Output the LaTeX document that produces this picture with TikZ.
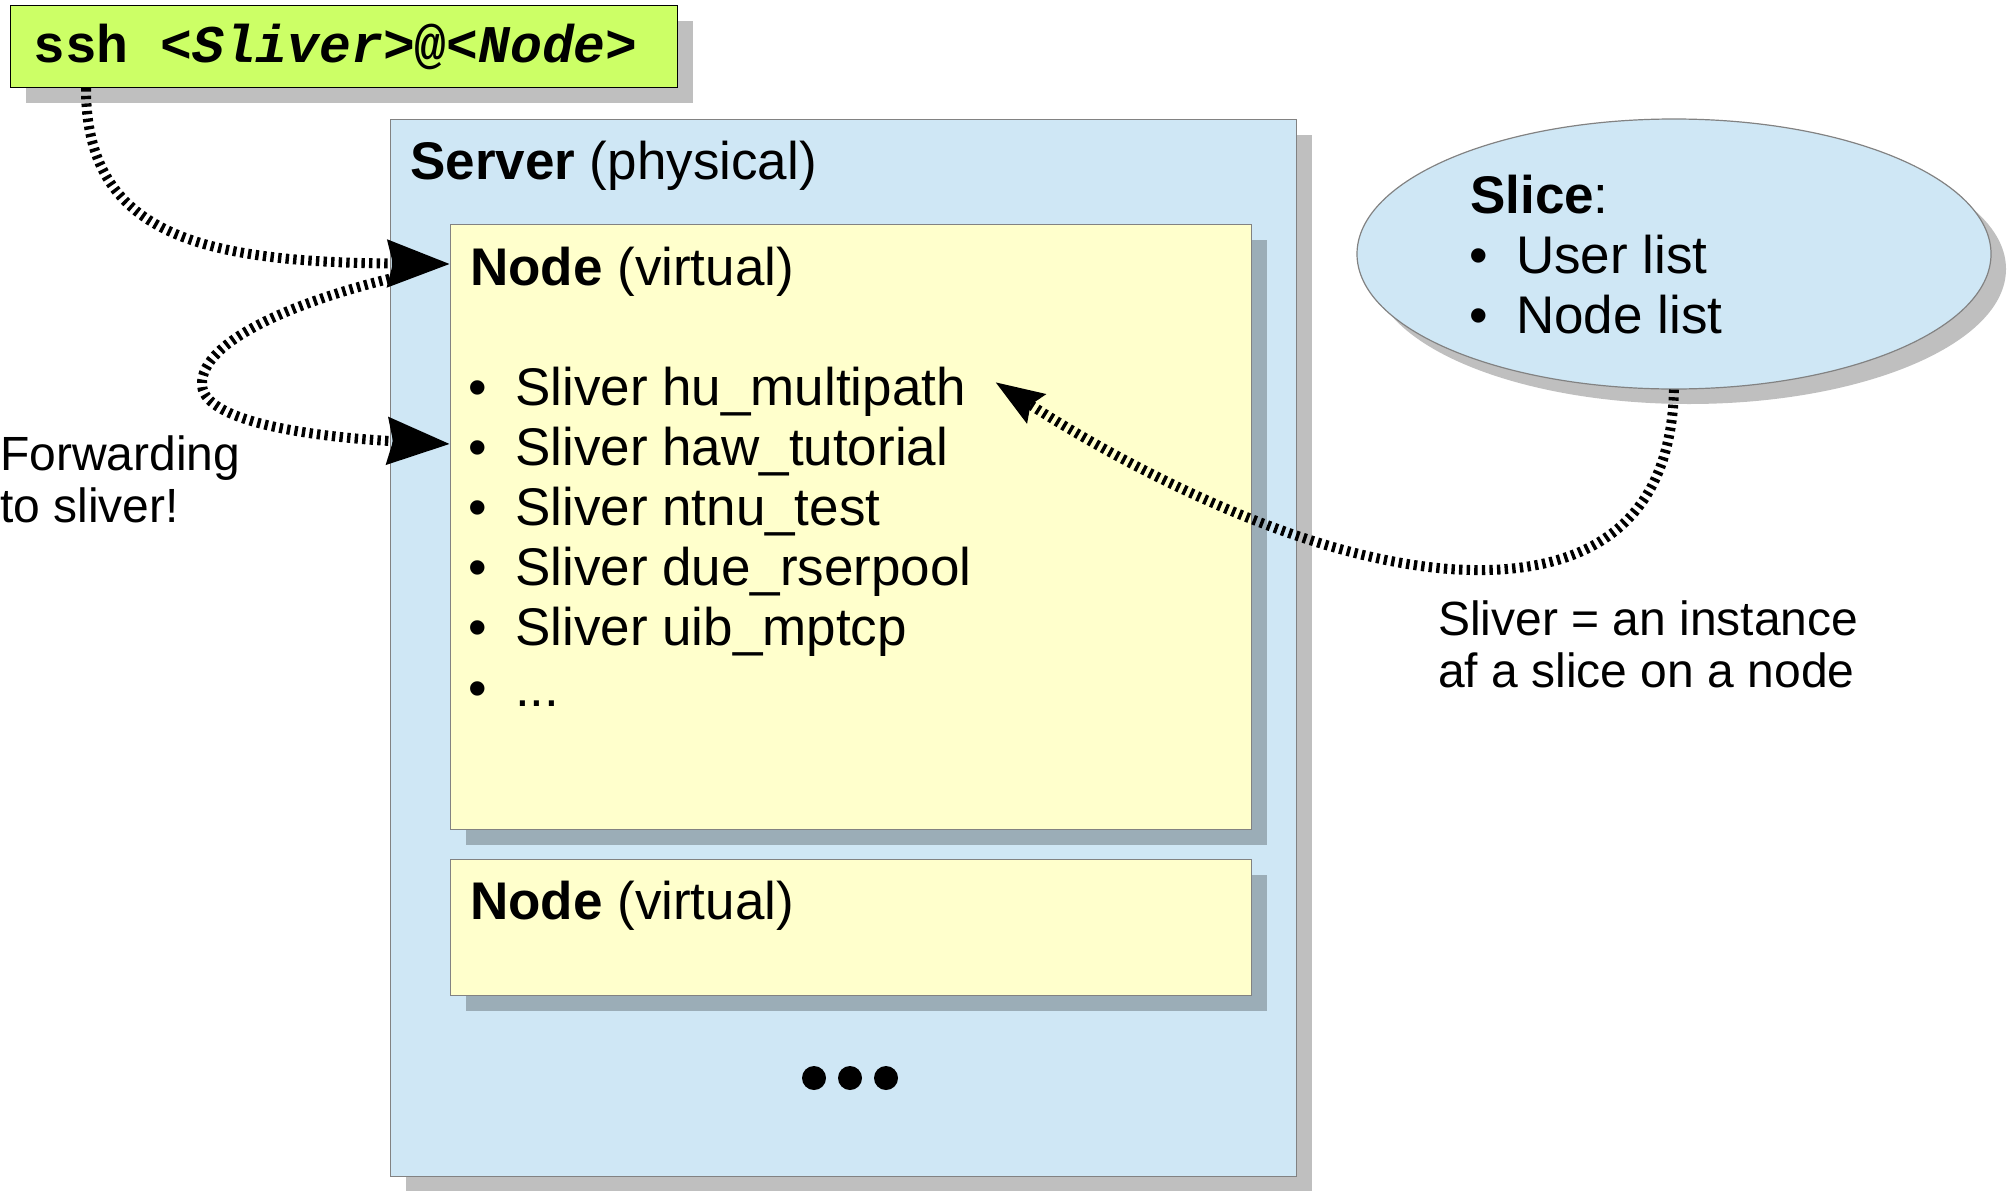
\documentclass[tikz,border=0pt]{standalone}
\usepackage{fontspec}
\setmainfont{Liberation Sans}
\setmonofont{Liberation Mono}
\usetikzlibrary{arrows.meta,shapes.geometric,shadows,calc}
\definecolor{srvblue}{RGB}{207,231,245}
\definecolor{nodeyel}{RGB}{255,255,204}
\definecolor{sshgreen}{RGB}{204,255,102}
\definecolor{edgegray}{RGB}{130,130,130}
\begin{document}
\begin{tikzpicture}[x=1pt,y=-1pt,
  shad/.style={drop shadow={shadow xshift=15pt,shadow yshift=-15pt,fill=black,opacity=0.25,draw=none}},
  boxstyle/.style={draw=edgegray,line width=1.2pt,anchor=north west,inner sep=0pt,shad},
  lbl/.style={anchor=base west,inner sep=0pt,font=\fontsize{53}{60}\selectfont},
  bul/.style={anchor=base,inner sep=0pt,font=\fontsize{53}{60}\selectfont},
  note/.style={anchor=base west,inner sep=0pt,font=\fontsize{48}{52}\selectfont},
  conn/.style={line width=10pt,dash pattern=on 3.4pt off 4.2pt},
  bighead/.style={-{Stealth[length=62pt,width=46pt,inset=5pt]}},
  smallhead/.style={-{Stealth[length=48pt,width=33pt,inset=6pt]}},
  dotstyle/.style={circle,fill=black,inner sep=0pt,minimum size=24pt}
]
\useasboundingbox (0,0) rectangle (2010,1191);

% ssh box
\node[boxstyle,draw=black,fill=sshgreen,minimum width=667pt,minimum height=82pt] (ssh) at (10,5) {};
\node[anchor=base west,inner sep=0pt,font=\fontsize{53}{60}\selectfont\ttfamily\bfseries] (sshtxt) at (33,62) {ssh \textit{<Sliver>}@\textit{<Node>}};

% server
\node[boxstyle,fill=srvblue,minimum width=906pt,minimum height=1057pt] (server) at (390,119) {};
\node[lbl] (servertxt) at (410,179) {\textbf{Server} (physical)};

% node 1
\node[boxstyle,fill=nodeyel,minimum width=801pt,minimum height=605pt] (node1) at (450,224) {};
\node[lbl] (node1txt) at (470,285) {\textbf{Node} (virtual)};
\foreach \i/\t in {1/Sliver hu\_multipath,2/Sliver haw\_tutorial,3/Sliver ntnu\_test,4/Sliver due\_rserpool,5/Sliver uib\_mptcp}{
  \node[bul] (b\i) at (478,{405+60.2*(\i-1)}) {•};
  \node[lbl] (s\i) at (515,{405+60.2*(\i-1)}) {\t};
}
\node[bul] (b6) at (478,706) {•};
\node[lbl] (s6) at (515,706) {.{}.{}.};

% node 2
\node[boxstyle,fill=nodeyel,minimum width=801pt,minimum height=136pt] (node2) at (450,859) {};
\node[lbl] (node2txt) at (470,919) {\textbf{Node} (virtual)};

% dots
\node[dotstyle] (d1) at (814,1078) {};
\node[dotstyle] (d2) at (850,1078) {};
\node[dotstyle] (d3) at (886,1078) {};

% slice ellipse
\node[ellipse,draw=edgegray,line width=1.2pt,fill=srvblue,minimum width=634pt,minimum height=270pt,inner sep=0pt,shad] (slice) at (1674,254) {};
\node[lbl] (slicetxt) at (1470,213) {\textbf{Slice}:};
\node[bul] (sb1) at (1479,273) {•};
\node[lbl] (sl1) at (1516,273) {User list};
\node[bul] (sb2) at (1479,333) {•};
\node[lbl] (sl2) at (1516,333) {Node list};

% notes
\node[note] (fw1) at (0,470) {Forwarding};
\node[note] (fw2) at (0,522) {to sliver!};
\node[note] (sv1) at (1438,635) {Sliver = an instance};
\node[note] (sv2) at (1438,687) {af a slice on a node};

% connectors
\coordinate (sshout) at ($(ssh.south west)+(76,0)$);
\coordinate (in1) at ($(node1.north west)+(0,40)$);
\coordinate (fwstart) at ($(node1.north west)+(-53,53)$);
\coordinate (in2) at ($(node1.north west)+(0,220)$);
\coordinate (sliverin) at ($(s1.base east)+(29,-23)$);

\draw[conn,bighead] (sshout) .. controls (86,235) and (200,262) .. (in1);
\draw[conn,bighead] (fwstart) .. controls (300,300) and (200,340) .. (202,385) .. controls (204,425) and (330,438) .. (in2);
\draw[conn,smallhead] (slice.south) .. controls (1670,545) and (1560,572) .. (1470,570) .. controls (1300,566) and (1100,450) .. (sliverin);
\end{tikzpicture}
\end{document}
